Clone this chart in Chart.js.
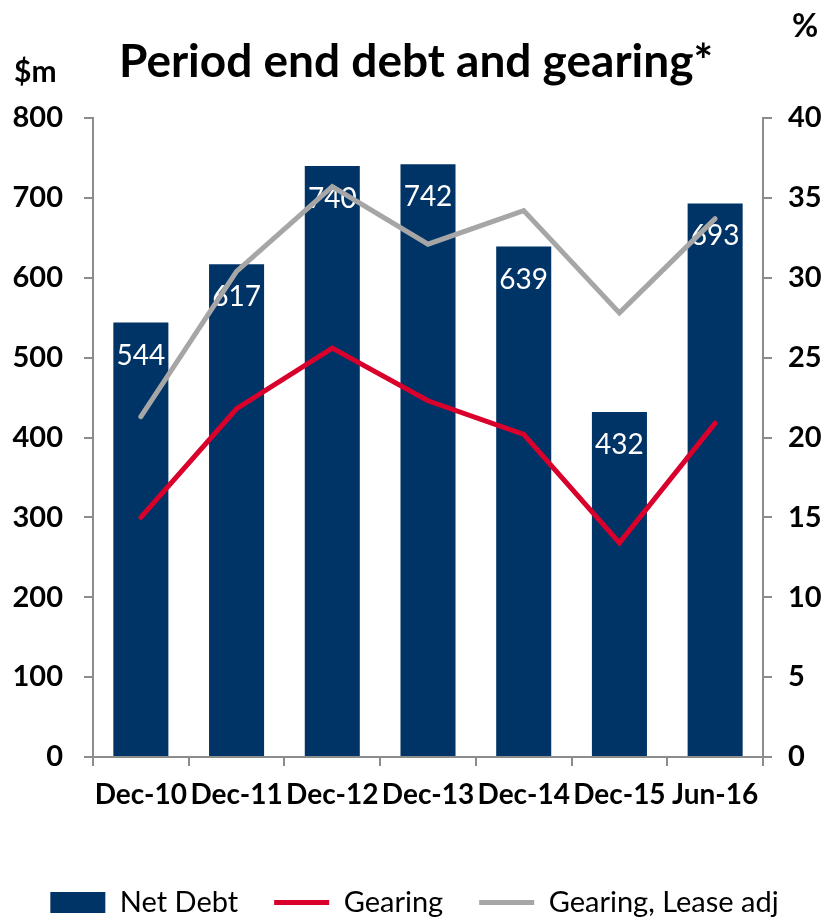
<!DOCTYPE html>
<html>
<head>
<meta charset="utf-8">
<script src="https://cdn.jsdelivr.net/npm/chart.js@4"></script>
<style>
  html, body { margin: 0; padding: 0; background: #fff; }
  #wrap { width: 829px; height: 917px; }
</style>
</head>
<body>
<div id="wrap"><canvas id="debtChart" width="829" height="917"></canvas></div>
<script>
// Chart data
const periods = ['Dec-10', 'Dec-11', 'Dec-12', 'Dec-13', 'Dec-14', 'Dec-15', 'Jun-16'];
const netDebt = [544, 617, 740, 742, 639, 432, 693];
const gearing = [15.0, 21.8, 25.6, 22.3, 20.2, 13.4, 20.9];
const gearingLeaseAdj = [21.3, 30.4, 35.7, 32.1, 34.2, 27.8, 33.7];
const leftTicks = [0, 100, 200, 300, 400, 500, 600, 700, 800];
const rightTicks = [0, 5, 10, 15, 20, 25, 30, 35, 40];

const NAVY = '#003366';
const RED = '#D9002B';
const GREY = '#A6A6A6';
const AXIS = '#8C8C8C';
const FONT = 'Lato, "Liberation Sans", Arial, sans-serif';

const PLOT_TOP = 118, PLOT_BOTTOM = 757, PLOT_LEFT = 93, PLOT_RIGHT = 763;

// white value labels inside bars, drawn before the lines go on top
const barLabels = {
    id: 'barLabels',
    afterDatasetDraw(chart, args) {
        if (args.index !== 0) return;
        const ctx = chart.ctx;
        ctx.save();
        ctx.fillStyle = '#fff';
        ctx.font = '28px ' + FONT;
        ctx.textAlign = 'center';
        ctx.textBaseline = 'middle';
        args.meta.data.forEach((bar, i) => {
            ctx.fillText(String(netDebt[i]), bar.x, bar.y + 33);
        });
        ctx.restore();
    }
};

// title and axis unit captions
const captions = {
    id: 'captions',
    afterDraw(chart) {
        const ctx = chart.ctx;
        ctx.save();
        ctx.fillStyle = '#000';
        ctx.textBaseline = 'alphabetic';
        ctx.font = 'bold 46px ' + FONT;
        ctx.textAlign = 'center';
        ctx.fillText('Period end debt and gearing*', 416, 77);
        ctx.font = 'bold 30px ' + FONT;
        ctx.textAlign = 'left';
        ctx.fillText('$m', 14, 82);
        ctx.font = 'bold 32px ' + FONT;
        ctx.fillText('%', 792, 37);
        ctx.restore();
    }
};

const ctx = document.getElementById('debtChart').getContext('2d');
const debtChart = new Chart(ctx, {
    type: 'bar',
    data: {
        labels: periods,
        datasets: [
            {
                label: 'Net Debt',
                data: netDebt,
                backgroundColor: NAVY,
                borderWidth: 0,
                categoryPercentage: 1.0,
                barPercentage: 0.575,
                yAxisID: 'y',
                order: 3
            },
            {
                type: 'line',
                label: 'Gearing',
                data: gearing,
                borderColor: RED,
                backgroundColor: RED,
                borderWidth: 5,
                borderCapStyle: 'round',
                pointRadius: 0,
                tension: 0,
                yAxisID: 'y1',
                order: 2
            },
            {
                type: 'line',
                label: 'Gearing, Lease adj',
                data: gearingLeaseAdj,
                borderColor: GREY,
                backgroundColor: GREY,
                borderWidth: 5,
                borderCapStyle: 'round',
                pointRadius: 0,
                tension: 0,
                yAxisID: 'y1',
                order: 1
            }
        ]
    },
    options: {
        responsive: false,
        animation: false,
        layout: { padding: { top: PLOT_TOP, left: 0, right: 0, bottom: -10 } },
        plugins: {
            legend: {
                position: 'bottom',
                labels: {
                    color: '#000',
                    font: { family: FONT, size: 29 },
                    usePointStyle: true,
                    pointStyleWidth: 55,
                    boxWidth: 55,
                    boxHeight: 21,
                    padding: 36,
                    generateLabels(chart) {
                        return chart.data.datasets.map((ds, i) => ({
                            text: ds.label,
                            fillStyle: ds.backgroundColor,
                            strokeStyle: ds.type === 'line' ? ds.borderColor : ds.backgroundColor,
                            lineWidth: ds.type === 'line' ? 5 : 0,
                            pointStyle: ds.type === 'line' ? 'line' : 'rect',
                            fontColor: '#000',
                            datasetIndex: i
                        }));
                    }
                }
            },
            tooltip: { enabled: false }
        },
        scales: {
            x: {
                grid: {
                    offset: true,
                    drawOnChartArea: false,
                    color: AXIS,
                    tickLength: 9,
                    lineWidth: 2
                },
                border: { color: AXIS, width: 2 },
                ticks: {
                    color: '#000',
                    font: { family: FONT, size: 28, weight: 'bold' },
                    padding: 12,
                    maxRotation: 0,
                    autoSkip: false
                },
                afterFit(scale) {
                    scale.height = scale.chart.height - PLOT_BOTTOM - scale.chart.legend.height + 10;
                }
            },
            y: {
                position: 'left',
                min: 0,
                max: 800,
                afterBuildTicks(scale) { scale.ticks = leftTicks.map(v => ({ value: v })); },
                grid: { drawOnChartArea: false, color: AXIS, tickLength: 9, lineWidth: 2 },
                border: { color: AXIS, width: 2 },
                ticks: {
                    color: '#000',
                    font: { family: FONT, size: 29, weight: 'bold' },
                    padding: 21
                },
                afterFit(scale) { scale.width = PLOT_LEFT; }
            },
            y1: {
                position: 'right',
                min: 0,
                max: 40,
                afterBuildTicks(scale) { scale.ticks = rightTicks.map(v => ({ value: v })); },
                grid: { drawOnChartArea: false, color: AXIS, tickLength: 9, lineWidth: 2 },
                border: { color: AXIS, width: 2 },
                ticks: {
                    color: '#000',
                    font: { family: FONT, size: 29, weight: 'bold' },
                    padding: 16
                },
                afterFit(scale) { scale.width = 829 - PLOT_RIGHT; }
            }
        }
    },
    plugins: [barLabels, captions]
});
</script>
</body>
</html>
